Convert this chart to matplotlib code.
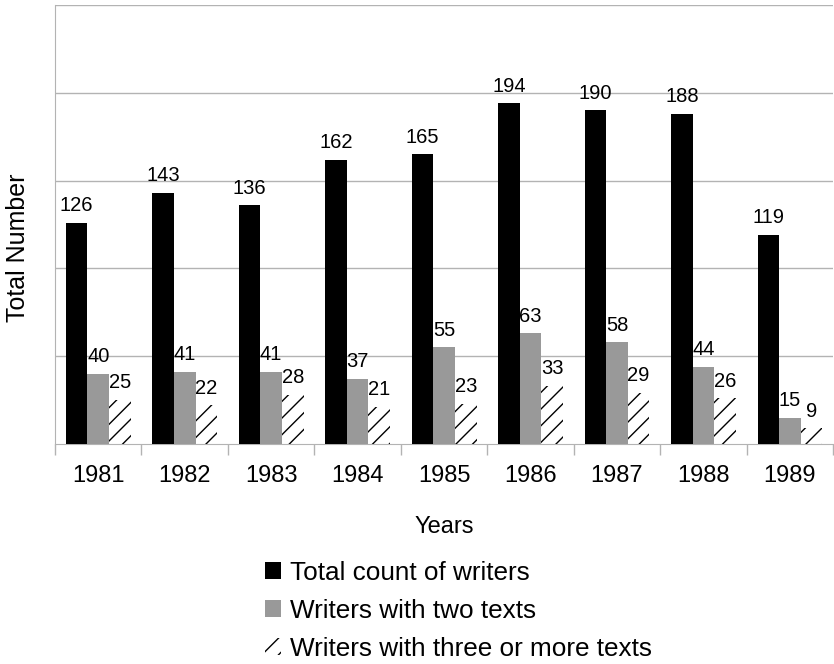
import numpy as np
import matplotlib
matplotlib.use('Agg')
from matplotlib import pyplot as plt

years = ['1981', '1982', '1983', '1984', '1985', '1986', '1987', '1988', '1989']
total_writers = [126, 143, 136, 162, 165, 194, 190, 188, 119]
two_texts = [40, 41, 41, 37, 55, 63, 58, 44, 15]
three_texts = [25, 22, 28, 21, 23, 33, 29, 26, 9]

plt.rcParams['font.family'] = ['Liberation Sans', 'DejaVu Sans']
plt.rcParams['hatch.linewidth'] = 1.0

fig = plt.figure(figsize=(8.34, 6.64), dpi=100)
ax = fig.add_axes([55/834, (664-444)/664, (834-55)/834 - 0.001, (444-5)/664])

x = np.arange(len(years))
w = 0.25
b1 = ax.bar(x - w, total_writers, w, color='black', label='Total count of writers', zorder=3)
b2 = ax.bar(x, two_texts, w, color='#999999', label='Writers with two texts', zorder=3)
b3 = ax.bar(x + w, three_texts, w, facecolor='none', edgecolor='black', linewidth=0,
            hatch='//', label='Writers with three or more texts', zorder=3)

for bars in (b1, b2, b3):
    for r in bars:
        ax.annotate(str(int(r.get_height())), (r.get_x() + r.get_width()/2, r.get_height()),
                    xytext=(0, 5.5), textcoords='offset points', ha='center', va='bottom',
                    fontsize=14.5, zorder=4)

ax.set_xlim(-0.5, len(years) - 0.5)
ax.set_ylim(0, 250)
ax.set_yticks([50, 100, 150, 200, 250])
ax.yaxis.grid(True, color='#b3b3b3', linewidth=1)
ax.tick_params(axis='y', length=0, labelleft=False)

ax.set_xticks(x)
ax.set_xticklabels(years, fontsize=17)
ax.set_xticks(np.arange(-0.5, len(years)), minor=True)
ax.tick_params(axis='x', which='major', length=0, pad=15)
ax.tick_params(axis='x', which='minor', length=8, color='#b3b3b3', width=1)

for s in ('top', 'right'):
    ax.spines[s].set_visible(False)
for s in ('left', 'bottom'):
    ax.spines[s].set_color('#b3b3b3')

ax.set_ylabel('Total Number', fontsize=18, labelpad=18)
ax.yaxis.label.set_y(0.448)
ax.set_xlabel('Years', fontsize=17, labelpad=21)

ax.legend(loc='upper left', bbox_to_anchor=(0.257, -0.242), borderaxespad=0, frameon=False,
          fontsize=18.8, handlelength=0.6, handleheight=0.6, handletextpad=0.35,
          labelspacing=0.54)

plt.savefig('out.png', dpi=100)
